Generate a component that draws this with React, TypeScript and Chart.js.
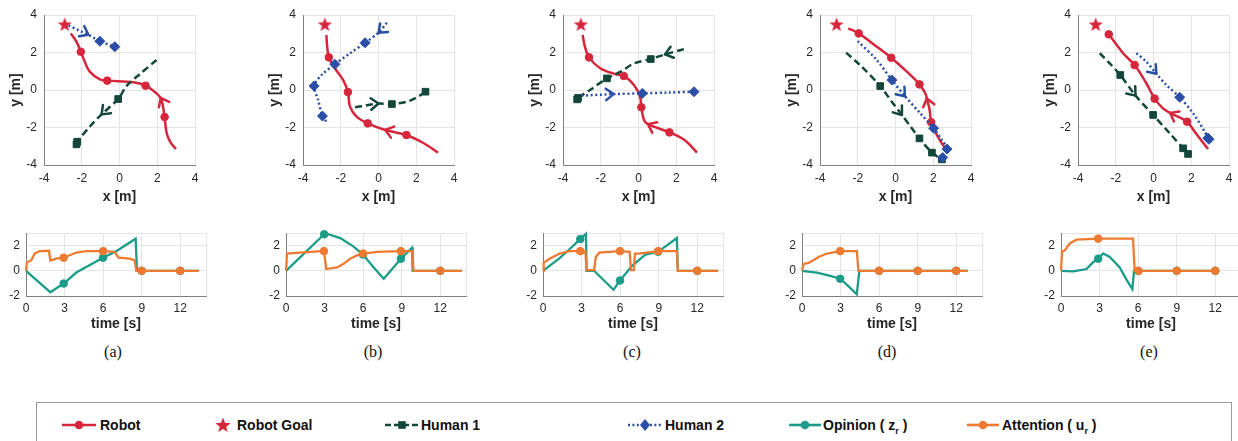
import React, { useEffect, useRef } from 'react';
import { Chart, registerables } from 'chart.js';
Chart.register(...registerables);

type P = [number, number];

// ---------- colours / fonts ----------
const FONT = "'Liberation Sans', Arial, Helvetica, sans-serif";
const SERIF = "'Liberation Serif', 'Times New Roman', serif";
const RED = '#d6263c';
const GREEN = '#13473a';
const BLUE = '#2b4ea6';
const TEAL = '#1b9c88';
const ORANGE = '#ee7a32';
const GRID = '#e4e4e4';
const AXIS = '#808080';
const TEXT = '#262626';

// ---------- tick labels ----------
const trajTicks = [-4, -2, 0, 2, 4];
const timeXTicks = [0, 3, 6, 9, 12];
const timeYTicks = [-2, 0, 2];
const timeXMax = 14;
const timeYMax = 3;

// ---------- panel (a) ----------
const starA: P = [-2.9, 3.5];
const robotA: P[] = [[2.99, -3.15], [2.71, -2.81], [2.5, -2.31], [2.39, -1.44], [2.3, -0.85], [2.18, -0.42], [1.96, -0.18], [1.38, 0.23], [0.73, 0.41], [-0.65, 0.5], [-1.04, 0.57], [-1.58, 0.98], [-1.84, 1.51], [-2.05, 2.04], [-2.28, 2.58], [-2.58, 3.02]];
const robotAMarks = [3, 7, 9, 13];
const robotAArrows = [5];
const human1A: P[] = [[1.96, 1.6], [1.08, 0.85], [0.37, 0.21], [-0.07, -0.48], [-0.95, -1.3], [-1.58, -1.96], [-2.24, -2.76], [-2.28, -2.9]];
const human1AMarks = [3, 6, 7];
const human1AArrows = [4];
const human2A: P[] = [[-2.7, 3.45], [-2.2, 3.2], [-1.65, 2.95], [-1.04, 2.6], [-0.25, 2.31]];
const human2AMarks = [3, 4];
const human2AArrows = [2];
const opinionA: P[] = [[0, 0], [1.89, -1.7], [2.93, -1.01], [3.91, -0.14], [5.99, 1.04], [7.02, 1.56], [8.53, 2.55], [8.63, 0], [9, 0], [12, 0], [13.45, 0]];
const opinionAMarks = [2, 4, 8, 9];
const attentionA: P[] = [[0, 0], [0.08, 0.68], [0.41, 0.82], [0.67, 1.37], [1.06, 1.56], [1.79, 1.59], [1.89, 0.82], [2.36, 0.96], [2.93, 1.04], [3.91, 1.45], [4.69, 1.56], [6.0, 1.56], [6.89, 1.51], [7.2, 1.04], [8.06, 0.96], [8.45, 0.82], [8.58, 0], [9, 0], [12, 0], [13.45, 0]];
const attentionAMarks = [8, 11, 17, 18];

// ---------- panel (b) ----------
const starB: P = [-2.84, 3.5];
const robotB: P[] = [[3.15, -3.34], [2.4, -2.84], [1.48, -2.4], [0.36, -2.13], [-0.57, -1.78], [-1.16, -1.42], [-1.51, -0.89], [-1.62, -0.11], [-1.87, 0.53], [-2.31, 1.16], [-2.63, 1.74], [-2.72, 2.31], [-2.76, 2.93]];
const robotBMarks = [2, 4, 7, 10];
const robotBArrows = [3];
const human1B: P[] = [[-1.24, -0.92], [-0.8, -0.85], [0.0, -0.72], [0.71, -0.75], [1.51, -0.62], [2.04, -0.39], [2.49, -0.09]];
const human1BMarks = [3, 6];
const human1BArrows = [2];
const human2B: P[] = [[0.44, 3.59], [0.0, 3.05], [-0.71, 2.52], [-1.51, 1.96], [-2.31, 1.37], [-3.02, 0.8], [-3.41, 0.21], [-3.2, -0.53], [-2.97, -1.39], [-2.76, -1.69]];
const human2BMarks = [2, 4, 6, 8];
const human2BArrows = [1];
const opinionB: P[] = [[0, 0], [2.97, 2.9], [3.05, 2.98], [4.22, 2.6], [5.26, 1.92], [5.99, 1.29], [6.82, 0.27], [7.6, -0.63], [8.94, 0.96], [9.8, 1.84], [9.85, 0], [12, 0], [13.69, 0]];
const opinionBMarks = [1, 5, 8, 11];
const attentionB: P[] = [[0, 0], [0.08, 1.37], [1.11, 1.45], [2.8, 1.56], [2.95, 1.56], [3.14, 0.14], [3.97, 0.27], [4.48, 0.55], [5.0, 0.96], [5.52, 1.23], [5.99, 1.37], [7.08, 1.51], [8.94, 1.56], [9.8, 1.56], [9.93, 0], [12, 0], [13.69, 0]];
const attentionBMarks = [4, 10, 12, 15];

// ---------- panel (c) ----------
const starC: P = [-3.05, 3.5];
const robotC: P[] = [[3.1, -3.34], [2.44, -2.67], [1.64, -2.26], [0.5, -1.82], [0.29, -1.6], [0.15, -0.92], [0.08, -0.36], [-0.24, 0.27], [-0.78, 0.75], [-1.23, 0.85], [-2.03, 1.16], [-2.62, 1.74], [-2.84, 2.31], [-2.96, 2.93]];
const robotCMarks = [2, 5, 8, 11];
const robotCArrows = [3];
const human1C: P[] = [[2.4, 2.17], [1.4, 1.9], [0.65, 1.65], [-0.24, 1.42], [-0.94, 0.98], [-1.67, 0.62], [-2.57, 0.0], [-3.2, -0.42], [-3.25, -0.5]];
const human1CMarks = [2, 5, 7, 8];
const human1CArrows = [1];
const human2C: P[] = [[-3.02, -0.3], [-1.32, -0.22], [0.2, -0.18], [1.55, -0.14], [2.94, -0.09]];
const human2CMarks = [2, 4];
const human2CArrows = [1];
const opinionC: P[] = [[0, 0], [1.3, 1.0], [2.1, 1.75], [2.9, 2.52], [3.34, 2.93], [3.39, 0], [3.98, 0], [5.48, -1.51], [5.99, -0.77], [6.94, 0.41], [7.97, 1.29], [8.95, 1.51], [9.51, 1.92], [10.41, 2.6], [10.49, 0], [12, 0], [13.62, 0]];
const opinionCMarks = [3, 8, 11, 15];
const attentionC: P[] = [[0, 0], [0.05, 0.63], [0.51, 0.96], [1.29, 1.37], [2.06, 1.56], [2.9, 1.56], [3.29, 1.56], [3.39, 0.05], [3.98, 0.05], [4.11, 1.1], [4.37, 1.45], [5.99, 1.56], [6.74, 1.51], [6.84, 0.05], [7.07, 0.05], [7.15, 1.37], [7.46, 1.37], [8.95, 1.56], [10.41, 1.56], [10.49, 0], [12, 0], [13.62, 0]];
const attentionCMarks = [5, 11, 17, 20];

// ---------- panel (d) ----------
const starD: P = [-3.12, 3.5];
const robotD: P[] = [[2.76, -3.29], [2.51, -2.93], [2.19, -2.4], [1.89, -1.72], [1.81, -1.07], [1.66, -0.45], [1.58, -0.18], [1.27, 0.3], [0.6, 0.98], [-0.23, 1.72], [-0.99, 2.31], [-1.95, 3.02], [-2.5, 3.29]];
const robotDMarks = [3, 7, 9, 11];
const robotDArrows = [5];
const human1D: P[] = [[-2.62, 1.99], [-1.88, 1.33], [-0.81, 0.21], [-0.25, -0.55], [0.34, -1.33], [0.8, -1.95], [1.27, -2.58], [1.93, -3.34], [2.46, -3.7]];
const human1DMarks = [2, 6, 7, 8];
const human1DArrows = [4];
const human2D: P[] = [[-2.0, 2.61], [-0.99, 1.6], [-0.19, 0.53], [0.5, -0.33], [1.31, -1.24], [2.02, -2.04], [2.46, -2.67], [2.73, -3.15], [2.5, -3.6]];
const human2DMarks = [2, 5, 7, 8];
const human2DArrows = [3];
const opinionD: P[] = [[0, 0], [1.16, -0.14], [2.19, -0.41], [2.97, -0.63], [3.48, -1.1], [4.26, -1.86], [4.46, 0], [6, 0], [9, 0], [12, 0], [12.9, 0]];
const opinionDMarks = [3, 7, 8, 9];
const attentionD: P[] = [[0, 0], [0.13, 0.55], [0.52, 0.63], [1.29, 1.1], [1.94, 1.37], [2.97, 1.56], [4.26, 1.56], [4.39, 0], [6, 0], [9, 0], [12, 0], [12.9, 0]];
const attentionDMarks = [5, 8, 9, 10];

// ---------- panel (e) ----------
const starE: P = [-3.06, 3.5];
const robotE: P[] = [[2.89, -3.15], [2.63, -2.81], [2.18, -2.22], [1.78, -1.69], [0.88, -1.22], [0.5, -0.98], [0.06, -0.46], [-0.38, 0.36], [-1.0, 1.33], [-1.61, 1.96], [-2.37, 2.97]];
const robotEMarks = [3, 6, 8, 10];
const robotEArrows = [4];
const human1E: P[] = [[-2.85, 1.96], [-2.32, 1.42], [-1.76, 0.8], [-0.95, -0.3], [-0.02, -1.33], [0.86, -2.31], [1.57, -3.11], [1.83, -3.41]];
const human1EMarks = [2, 4, 6, 7];
const human1EArrows = [3];
const human2E: P[] = [[-0.91, 1.96], [-0.38, 1.51], [0.15, 0.87], [0.68, 0.27], [1.39, -0.39], [2.1, -1.24], [2.71, -2.22], [2.88, -2.56], [2.94, -2.63]];
const human2EMarks = [4, 7, 8];
const human2EArrows = [2];
const opinionE: P[] = [[0, 0], [0.95, -0.05], [1.99, 0.14], [2.5, 0.68], [2.89, 0.96], [3.28, 1.37], [3.79, 1.1], [4.57, 0.27], [5.08, -0.68], [5.55, -1.45], [5.68, 0], [6, 0], [9, 0], [12, 0], [12.3, 0]];
const opinionEMarks = [4, 11, 12, 13];
const attentionE: P[] = [[0, 0], [0.08, 1.51], [0.31, 1.64], [0.7, 2.19], [1.21, 2.47], [2.89, 2.55], [5.6, 2.55], [5.73, 0], [6.04, 0], [9, 0], [12, 0], [12.3, 0]];
const attentionEMarks = [5, 8, 9, 10];

const captions = ['(a)', '(b)', '(c)', '(d)', '(e)'];

// ---------- layout (pixels) ----------
const trajLefts = [44, 303, 563, 820, 1078];
const timeLefts = [26, 286, 543, 802, 1061];
const captionX = [113, 373, 632, 887, 1149];

const panels = [
  { star: starA, robot: [robotA, robotAMarks, robotAArrows], h1: [human1A, human1AMarks, human1AArrows], h2: [human2A, human2AMarks, human2AArrows], op: [opinionA, opinionAMarks], at: [attentionA, attentionAMarks] },
  { star: starB, robot: [robotB, robotBMarks, robotBArrows], h1: [human1B, human1BMarks, human1BArrows], h2: [human2B, human2BMarks, human2BArrows], op: [opinionB, opinionBMarks], at: [attentionB, attentionBMarks] },
  { star: starC, robot: [robotC, robotCMarks, robotCArrows], h1: [human1C, human1CMarks, human1CArrows], h2: [human2C, human2CMarks, human2CArrows], op: [opinionC, opinionCMarks], at: [attentionC, attentionCMarks] },
  { star: starD, robot: [robotD, robotDMarks, robotDArrows], h1: [human1D, human1DMarks, human1DArrows], h2: [human2D, human2DMarks, human2DArrows], op: [opinionD, opinionDMarks], at: [attentionD, attentionDMarks] },
  { star: starE, robot: [robotE, robotEMarks, robotEArrows], h1: [human1E, human1EMarks, human1EArrows], h2: [human2E, human2EMarks, human2EArrows], op: [opinionE, opinionEMarks], at: [attentionE, attentionEMarks] },
] as any[];

function starCanvas(size: number, color: string) {
  const c = document.createElement('canvas');
  c.width = size; c.height = size;
  const g = c.getContext('2d')!;
  g.fillStyle = color;
  g.beginPath();
  const R = size / 2, r = R * 0.42, cx = size / 2, cy = size / 2 + 0.6;
  for (let k = 0; k < 10; k++) {
    const rad = k % 2 === 0 ? R : r;
    const a = -Math.PI / 2 + (k * Math.PI) / 5;
    const px = cx + rad * Math.cos(a), py = cy + rad * Math.sin(a);
    if (k === 0) g.moveTo(px, py); else g.lineTo(px, py);
  }
  g.closePath();
  g.fill();
  return c;
}

const arrowPlugin = {
  id: 'arrowHeads',
  afterDatasetsDraw(chart: any) {
    const ctx = chart.ctx;
    chart.data.datasets.forEach((ds: any, i: number) => {
      if (!ds.arrows) return;
      const meta = chart.getDatasetMeta(i);
      ds.arrows.forEach((idx: number) => {
        const p = meta.data[idx];
        const a = meta.data[idx - 1] || p;
        const b = meta.data[idx + 1] || p;
        const ang = Math.atan2(b.y - a.y, b.x - a.x);
        const L = 9.5, spread = 0.65;
        ctx.save();
        ctx.strokeStyle = ds.borderColor;
        ctx.lineWidth = 2.5;
        ctx.setLineDash([]);
        ctx.lineCap = 'round';
        ctx.beginPath();
        for (const s of [1, -1]) {
          ctx.moveTo(p.x, p.y);
          ctx.lineTo(p.x - L * Math.cos(ang + s * spread), p.y - L * Math.sin(ang + s * spread));
        }
        ctx.stroke();
        ctx.restore();
      });
    });
  },
};

function fixedTicks(values: number[]) {
  return (s: any) => { s.ticks = values.map((v) => ({ value: v })); };
}
function fitSize(prop: 'width' | 'height', v: number) {
  return (s: any) => {
    s[prop] = v;
    s.paddingLeft = 0; s.paddingRight = 0; s.paddingTop = 0; s.paddingBottom = 0;
  };
}

function lineDs(pts: P[], marks: number[], arrows: number[] | null, color: string, dash: number[], style: any, radius: number, order: number, tension: number, width = 2.5) {
  return {
    data: pts.map(([x, y]) => ({ x, y })),
    showLine: true,
    borderColor: color,
    backgroundColor: color,
    borderWidth: width,
    borderDash: dash,
    borderCapStyle: 'butt',
    tension,
    pointStyle: style,
    pointRadius: (c: any) => (marks.includes(c.dataIndex) ? radius : 0),
    pointHoverRadius: 0,
    pointBackgroundColor: color,
    pointBorderColor: color,
    pointBorderWidth: 1,
    arrows,
    order,
    clip: false,
  };
}

function tickFont(size = 12) { return { family: FONT, size }; }
function titleFont() { return { family: FONT, size: 14, weight: 'bold' as const }; }

function trajConfig(p: any): any {
  const star = starCanvas(15, RED);
  return {
    type: 'scatter',
    data: {
      datasets: [
        { data: [{ x: p.star[0], y: p.star[1] }], pointStyle: star, pointRadius: 7, showLine: false, order: 0, clip: false },
        lineDs(p.h2[0], p.h2[1], p.h2[2], BLUE, [2, 2.6], 'rectRot', 5, 1, 0.3),
        lineDs(p.h1[0], p.h1[1], p.h1[2], GREEN, [7, 4], 'rect', 4.7, 2, 0.3),
        lineDs(p.robot[0], p.robot[1], p.robot[2], RED, [], 'circle', 3.8, 3, 0.35),
      ],
    },
    plugins: [arrowPlugin],
    options: {
      responsive: false,
      animation: false,
      devicePixelRatio: 1,
      events: [],
      layout: { padding: { top: 8, right: 10, left: 0, bottom: 0 } },
      plugins: { legend: { display: false }, tooltip: { enabled: false } },
      scales: {
        x: {
          type: 'linear', min: -4, max: 4,
          afterBuildTicks: fixedTicks(trajTicks),
          afterFit: fitSize('height', 45),
          ticks: { font: tickFont(), color: TEXT, padding: 6, maxRotation: 0, autoSkip: false },
          grid: { color: GRID, drawTicks: false },
          border: { color: AXIS, width: 1 },
          title: { display: true, text: 'x [m]', font: titleFont(), color: TEXT, padding: { top: 0, bottom: 4 } },
        },
        y: {
          type: 'linear', min: -4, max: 4,
          afterBuildTicks: fixedTicks(trajTicks),
          afterFit: fitSize('width', 40),
          ticks: { font: tickFont(), color: TEXT, padding: 7, autoSkip: false },
          grid: { color: GRID, drawTicks: false },
          border: { color: AXIS, width: 1 },
          title: { display: true, text: 'y [m]', font: titleFont(), color: TEXT, padding: { top: 4, bottom: 0 } },
        },
      },
    },
  };
}

function timeConfig(p: any): any {
  return {
    type: 'scatter',
    data: {
      datasets: [
        lineDs(p.at[0], p.at[1], null, ORANGE, [], 'circle', 3.8, 0, 0, 2.3),
        lineDs(p.op[0], p.op[1], null, TEAL, [], 'circle', 3.8, 1, 0, 2.3),
      ],
    },
    options: {
      responsive: false,
      animation: false,
      devicePixelRatio: 1,
      events: [],
      layout: { padding: { top: 8, right: 6, left: 0, bottom: 0 } },
      plugins: { legend: { display: false }, tooltip: { enabled: false } },
      scales: {
        x: {
          type: 'linear', min: 0, max: timeXMax,
          afterBuildTicks: fixedTicks([...timeXTicks, timeXMax]),
          afterFit: fitSize('height', 41),
          ticks: { font: tickFont(), color: TEXT, padding: 5, maxRotation: 0, autoSkip: false, callback: (v: number) => (timeXTicks.includes(v) ? String(v) : '') },
          grid: { color: GRID, drawTicks: false },
          border: { color: AXIS, width: 1 },
          title: { display: true, text: 'time [s]', font: titleFont(), color: TEXT, padding: { top: 0, bottom: 4 } },
        },
        y: {
          type: 'linear', min: -2, max: timeYMax,
          afterBuildTicks: fixedTicks([...timeYTicks, timeYMax]),
          afterFit: fitSize('width', 30),
          ticks: { font: tickFont(), color: TEXT, padding: 6, autoSkip: false, callback: (v: number) => (timeYTicks.includes(v) ? String(v) : '') },
          grid: { color: GRID, drawTicks: false },
          border: { color: AXIS, width: 1 },
        },
      },
    },
  };
}

function ChartBox({ left, top, width, height, config }: { left: number; top: number; width: number; height: number; config: () => any }) {
  const ref = useRef<HTMLCanvasElement>(null);
  useEffect(() => {
    const chart = new Chart(ref.current as HTMLCanvasElement, config());
    return () => chart.destroy();
  }, []);
  return (
    <div style={{ position: 'absolute', left, top, width, height }}>
      <canvas ref={ref} width={width} height={height} style={{ width, height, display: 'block' }} />
    </div>
  );
}

function LineIcon({ color, dash, marker, width = 34 }: { color: string; dash?: string; marker: 'circle' | 'square' | 'diamond'; width?: number }) {
  const c = width / 2;
  return (
    <svg width={width} height={14} style={{ display: 'block' }}>
      <line x1={0} y1={7} x2={width} y2={7} stroke={color} strokeWidth={2.6} strokeDasharray={dash} />
      {marker === 'circle' && <circle cx={c} cy={7} r={4.3} fill={color} />}
      {marker === 'square' && <rect x={c - 3.8} y={3.2} width={7.6} height={7.6} fill={color} />}
      {marker === 'diamond' && <polygon points={`${c},1 ${c + 5},7 ${c},13 ${c - 5},7`} fill={color} />}
    </svg>
  );
}

function StarIcon() {
  const pts: string[] = [];
  for (let k = 0; k < 10; k++) {
    const rad = k % 2 === 0 ? 8 : 3.4;
    const a = -Math.PI / 2 + (k * Math.PI) / 5;
    pts.push(`${(8 + rad * Math.cos(a)).toFixed(2)},${(8.6 + rad * Math.sin(a)).toFixed(2)}`);
  }
  return (
    <svg width={16} height={16} style={{ display: 'block' }}>
      <polygon points={pts.join(' ')} fill={RED} />
    </svg>
  );
}

const legendText: React.CSSProperties = { position: 'absolute', top: 0, fontFamily: FONT, fontWeight: 'bold', fontSize: 14, color: '#111', lineHeight: '16px', whiteSpace: 'nowrap' };

function Legend() {
  const cy = 425;
  const item = (iconLeft: number, icon: React.ReactNode, iconH: number, textLeft: number, label: React.ReactNode, key: string) => (
    <React.Fragment key={key}>
      <div style={{ position: 'absolute', left: iconLeft, top: cy - iconH / 2 }}>{icon}</div>
      <div style={{ ...legendText, left: textLeft, top: cy - 8 }}>{label}</div>
    </React.Fragment>
  );
  const sub = { fontSize: 9, verticalAlign: -4 } as React.CSSProperties;
  return (
    <>
      <div style={{ position: 'absolute', left: 36, top: 402, width: 1196, height: 60, border: '1px solid #9b9b9b', boxSizing: 'border-box' }} />
      {item(62, <LineIcon color={RED} marker="circle" />, 14, 100, 'Robot', 'r')}
      {item(215, <StarIcon />, 16, 237, 'Robot Goal', 'g')}
      {item(385, <LineIcon color={GREEN} marker="square" dash="6,3" />, 14, 421, 'Human 1', 'h1')}
      {item(628, <LineIcon color={BLUE} marker="diamond" dash="2,2.4" />, 14, 665, 'Human 2', 'h2')}
      {item(789, <LineIcon color={TEAL} marker="circle" width={32} />, 14, 823, <span>Opinion ( z<sub style={sub}>r</sub> )</span>, 'op')}
      {item(967, <LineIcon color={ORANGE} marker="circle" width={32} />, 14, 1002, <span>Attention ( u<sub style={sub}>r</sub> )</span>, 'at')}
    </>
  );
}

export default function App() {
  return (
    <div style={{ position: 'fixed', left: 0, top: 0, width: 1238, height: 441, background: '#fff', overflow: 'hidden' }}>
      {panels.map((p, i) => (
        <ChartBox key={'t' + i} left={trajLefts[i] - 40} top={15 - 8} width={151 + 40 + 10} height={150 + 8 + 45} config={() => trajConfig(p)} />
      ))}
      {panels.map((p, i) => (
        <ChartBox key={'s' + i} left={timeLefts[i] - 30} top={233 - 8} width={180 + 30 + 6} height={63 + 8 + 41} config={() => timeConfig(p)} />
      ))}
      {captions.map((c, i) => (
        <div key={'c' + i} style={{ position: 'absolute', left: captionX[i] - 20, width: 40, top: 343, textAlign: 'center', fontFamily: SERIF, fontSize: 16, color: '#111', lineHeight: '18px' }}>{c}</div>
      ))}
      <Legend />
    </div>
  );
}
